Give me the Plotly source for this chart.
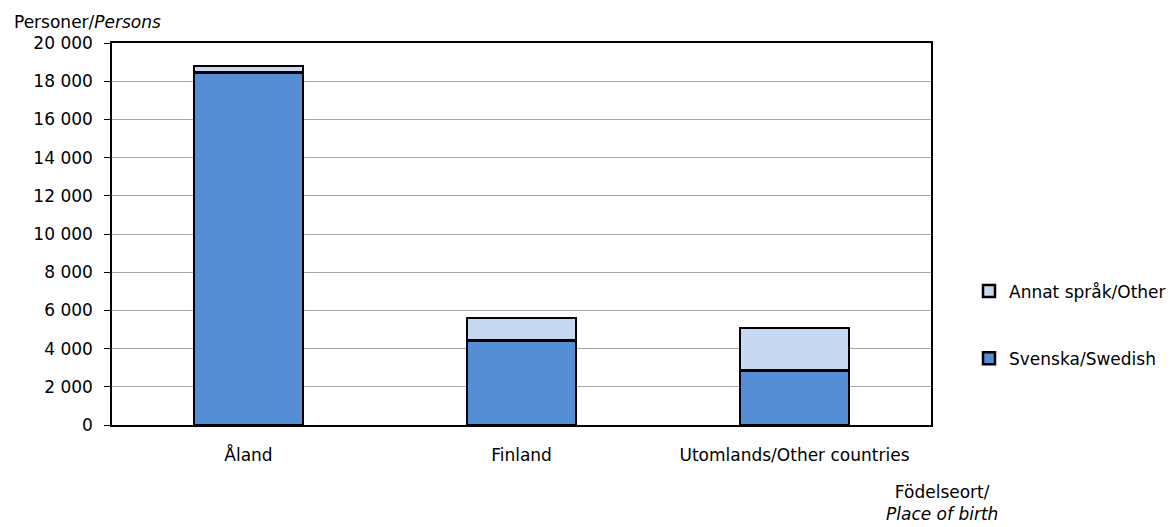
import plotly.graph_objects as go

categories = ["Åland", "Finland", "Utomlands/Other countries"]
swedish = [18450, 4420, 2850]
other = [350, 1170, 2220]
series_names = ["Svenska/Swedish", "Annat språk/Other"]
y_ticks = [0, 2000, 4000, 6000, 8000, 10000, 12000, 14000, 16000, 18000, 20000]
y_tick_labels = ["0", "2 000", "4 000", "6 000", "8 000", "10 000", "12 000",
                 "14 000", "16 000", "18 000", "20 000"]

FONT = "DejaVu Sans"
FS = 17
fig = go.Figure()
fig.add_trace(go.Bar(x=categories, y=swedish, name=series_names[0], legendgroup="a",
                     legendrank=2,
                     marker=dict(color="#558ed5", line=dict(color="black", width=2.5))))
fig.add_trace(go.Bar(x=categories, y=other, name=series_names[1], legendgroup="b",
                     legendrank=1,
                     marker=dict(color="#c6d9f1", line=dict(color="black", width=2.5))))

W = 1171 - 112 - 240
fig.update_layout(
    width=1171, height=527,
    barmode="stack", bargap=0.6,
    paper_bgcolor="white", plot_bgcolor="white",
    margin=dict(l=112, r=240, t=43, b=102, autoexpand=False),
    font=dict(family=FONT, size=FS, color="black"),
    legend=dict(x=(1009 - 40 - 112) / W, y=(425 - 325) / 382, xanchor="left", yanchor="middle",
                traceorder="grouped", tracegroupgap=42,
                font=dict(size=FS), itemwidth=30),
    xaxis=dict(showline=True, linecolor="black", linewidth=1.5, mirror=True,
               ticks="", ticklabelstandoff=14, showgrid=False),
    yaxis=dict(range=[0, 20000], tickvals=y_ticks, ticktext=y_tick_labels,
               showline=True, linecolor="black", linewidth=1.5, mirror=True,
               ticks="outside", ticklen=6, tickcolor="black",
               showgrid=True, gridcolor="#a6a6a6", gridwidth=1.2,
               ticklabelstandoff=8),
    annotations=[
        dict(text="Personer/<i>Persons</i>", xref="paper", yref="paper",
             x=(12 - 112) / W, y=1, yshift=21, xanchor="left", yanchor="middle",
             showarrow=False, font=dict(size=FS)),
        dict(text="Födelseort/<br><i>Place of birth</i>", xref="paper", yref="paper",
             x=(942 - 112) / W, y=0, yshift=-55, xanchor="center", yanchor="top",
             showarrow=False, font=dict(size=FS), align="center"),
    ],
)

fig.write_html("out.html", config={"displayModeBar": False},
               post_script="document.body.style.margin='0';")
